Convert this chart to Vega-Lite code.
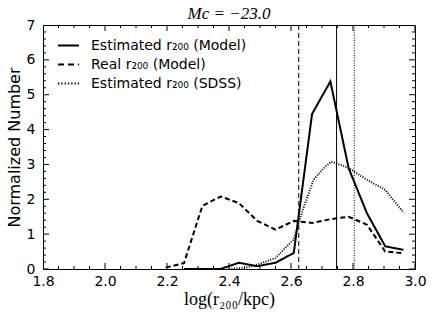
{
  "$schema": "https://vega.github.io/schema/vega-lite/v6.json",
  "width": 372,
  "height": 244,
  "autosize": "none",
  "padding": {"left": 43, "top": 25, "right": 21, "bottom": 58},
  "background": "white",
  "config": {
    "view": {"stroke": "black", "strokeWidth": 1},
    "axis": {"domain": false, "grid": false, "ticks": false, "labelFlush": false, "labelColor": "black", "labelFont": "DejaVu Sans", "labelFontSize": 14, "titleColor": "black"},
    "legend": {"orient": "none", "legendX": 14, "legendY": 9}
  },
  "title": {"text": "Mc = −23.0", "frame": "group", "font": "Liberation Serif", "fontStyle": "italic", "fontWeight": "normal", "fontSize": 17, "offset": 5, "dy": 10, "color": "black"},
  "datasets": {
    "lines": [
      {"x": 2.255, "y": 0.0, "series": "Estimated r₂₀₀ (Model)"},
      {"x": 2.314, "y": 0.0, "series": "Estimated r₂₀₀ (Model)"},
      {"x": 2.373, "y": 0.0, "series": "Estimated r₂₀₀ (Model)"},
      {"x": 2.432, "y": 0.18, "series": "Estimated r₂₀₀ (Model)"},
      {"x": 2.491, "y": 0.08, "series": "Estimated r₂₀₀ (Model)"},
      {"x": 2.55, "y": 0.18, "series": "Estimated r₂₀₀ (Model)"},
      {"x": 2.609, "y": 0.46, "series": "Estimated r₂₀₀ (Model)"},
      {"x": 2.668, "y": 4.45, "series": "Estimated r₂₀₀ (Model)"},
      {"x": 2.727, "y": 5.38, "series": "Estimated r₂₀₀ (Model)"},
      {"x": 2.786, "y": 2.89, "series": "Estimated r₂₀₀ (Model)"},
      {"x": 2.845, "y": 1.6, "series": "Estimated r₂₀₀ (Model)"},
      {"x": 2.904, "y": 0.65, "series": "Estimated r₂₀₀ (Model)"},
      {"x": 2.963, "y": 0.55, "series": "Estimated r₂₀₀ (Model)"},
      {"x": 2.196, "y": 0.04, "series": "Real r₂₀₀ (Model)"},
      {"x": 2.255, "y": 0.17, "series": "Real r₂₀₀ (Model)"},
      {"x": 2.314, "y": 1.81, "series": "Real r₂₀₀ (Model)"},
      {"x": 2.373, "y": 2.08, "series": "Real r₂₀₀ (Model)"},
      {"x": 2.432, "y": 1.89, "series": "Real r₂₀₀ (Model)"},
      {"x": 2.491, "y": 1.38, "series": "Real r₂₀₀ (Model)"},
      {"x": 2.55, "y": 1.13, "series": "Real r₂₀₀ (Model)"},
      {"x": 2.609, "y": 1.38, "series": "Real r₂₀₀ (Model)"},
      {"x": 2.668, "y": 1.32, "series": "Real r₂₀₀ (Model)"},
      {"x": 2.727, "y": 1.43, "series": "Real r₂₀₀ (Model)"},
      {"x": 2.786, "y": 1.5, "series": "Real r₂₀₀ (Model)"},
      {"x": 2.845, "y": 1.27, "series": "Real r₂₀₀ (Model)"},
      {"x": 2.904, "y": 0.5, "series": "Real r₂₀₀ (Model)"},
      {"x": 2.963, "y": 0.45, "series": "Real r₂₀₀ (Model)"},
      {"x": 2.4, "y": 0.0, "series": "Estimated r₂₀₀ (SDSS)"},
      {"x": 2.45, "y": 0.03, "series": "Estimated r₂₀₀ (SDSS)"},
      {"x": 2.49, "y": 0.12, "series": "Estimated r₂₀₀ (SDSS)"},
      {"x": 2.549, "y": 0.31, "series": "Estimated r₂₀₀ (SDSS)"},
      {"x": 2.608, "y": 0.84, "series": "Estimated r₂₀₀ (SDSS)"},
      {"x": 2.64, "y": 1.75, "series": "Estimated r₂₀₀ (SDSS)"},
      {"x": 2.673, "y": 2.56, "series": "Estimated r₂₀₀ (SDSS)"},
      {"x": 2.705, "y": 2.89, "series": "Estimated r₂₀₀ (SDSS)"},
      {"x": 2.73, "y": 3.08, "series": "Estimated r₂₀₀ (SDSS)"},
      {"x": 2.786, "y": 2.9, "series": "Estimated r₂₀₀ (SDSS)"},
      {"x": 2.845, "y": 2.56, "series": "Estimated r₂₀₀ (SDSS)"},
      {"x": 2.904, "y": 2.27, "series": "Estimated r₂₀₀ (SDSS)"},
      {"x": 2.963, "y": 1.62, "series": "Estimated r₂₀₀ (SDSS)"}
    ],
    "medians": [
      {"x": 2.625, "style": "dashed"},
      {"x": 2.747, "style": "solid"},
      {"x": 2.804, "style": "dotted"}
    ],
    "xticks": [
      {"v": 1.8, "kind": "major"}, {"v": 1.85, "kind": "minor"}, {"v": 1.9, "kind": "minor"}, {"v": 1.95, "kind": "minor"},
      {"v": 2.0, "kind": "major"}, {"v": 2.05, "kind": "minor"}, {"v": 2.1, "kind": "minor"}, {"v": 2.15, "kind": "minor"},
      {"v": 2.2, "kind": "major"}, {"v": 2.25, "kind": "minor"}, {"v": 2.3, "kind": "minor"}, {"v": 2.35, "kind": "minor"},
      {"v": 2.4, "kind": "major"}, {"v": 2.45, "kind": "minor"}, {"v": 2.5, "kind": "minor"}, {"v": 2.55, "kind": "minor"},
      {"v": 2.6, "kind": "major"}, {"v": 2.65, "kind": "minor"}, {"v": 2.7, "kind": "minor"}, {"v": 2.75, "kind": "minor"},
      {"v": 2.8, "kind": "major"}, {"v": 2.85, "kind": "minor"}, {"v": 2.9, "kind": "minor"}, {"v": 2.95, "kind": "minor"},
      {"v": 3.0, "kind": "major"}
    ],
    "yticks": [
      {"v": 0, "kind": "major"}, {"v": 0.2, "kind": "minor"}, {"v": 0.4, "kind": "minor"}, {"v": 0.6, "kind": "minor"}, {"v": 0.8, "kind": "minor"},
      {"v": 1, "kind": "major"}, {"v": 1.2, "kind": "minor"}, {"v": 1.4, "kind": "minor"}, {"v": 1.6, "kind": "minor"}, {"v": 1.8, "kind": "minor"},
      {"v": 2, "kind": "major"}, {"v": 2.2, "kind": "minor"}, {"v": 2.4, "kind": "minor"}, {"v": 2.6, "kind": "minor"}, {"v": 2.8, "kind": "minor"},
      {"v": 3, "kind": "major"}, {"v": 3.2, "kind": "minor"}, {"v": 3.4, "kind": "minor"}, {"v": 3.6, "kind": "minor"}, {"v": 3.8, "kind": "minor"},
      {"v": 4, "kind": "major"}, {"v": 4.2, "kind": "minor"}, {"v": 4.4, "kind": "minor"}, {"v": 4.6, "kind": "minor"}, {"v": 4.8, "kind": "minor"},
      {"v": 5, "kind": "major"}, {"v": 5.2, "kind": "minor"}, {"v": 5.4, "kind": "minor"}, {"v": 5.6, "kind": "minor"}, {"v": 5.8, "kind": "minor"},
      {"v": 6, "kind": "major"}, {"v": 6.2, "kind": "minor"}, {"v": 6.4, "kind": "minor"}, {"v": 6.6, "kind": "minor"}, {"v": 6.8, "kind": "minor"},
      {"v": 7, "kind": "major"}
    ]
  },
  "layer": [
    {
      "data": {"name": "medians"},
      "mark": {"type": "rule", "color": "black", "strokeWidth": 1},
      "encoding": {
        "x": {"field": "x", "type": "quantitative", "scale": {"domain": [1.8, 3.0], "nice": false, "zero": false}, "axis": null},
        "strokeDash": {"field": "style", "type": "nominal", "scale": {"domain": ["solid", "dashed", "dotted"], "range": [[1, 0], [5, 3], [1, 1.5]]}, "legend": null}
      }
    },
    {
      "data": {"name": "lines"},
      "mark": {"type": "line", "color": "black"},
      "encoding": {
        "x": {"field": "x", "type": "quantitative", "scale": {"domain": [1.8, 3.0], "nice": false, "zero": false},
          "axis": {"orient": "bottom", "values": [1.8, 2.0, 2.2, 2.4, 2.6, 2.8, 3.0], "format": ".1f", "tickSize": 0, "labelPadding": 5, "title": "log(r₂₀₀/kpc)", "titleFont": "Liberation Serif", "titleFontSize": 18, "titleFontWeight": "normal", "titlePadding": 2}},
        "y": {"field": "y", "type": "quantitative", "scale": {"domain": [0, 7], "nice": false},
          "axis": {"orient": "left", "values": [0, 1, 2, 3, 4, 5, 6, 7], "tickSize": 0, "labelPadding": 8, "title": "Normalized Number", "titleFont": "DejaVu Sans", "titleFontSize": 16, "titleFontWeight": "normal", "titlePadding": 4}},
        "strokeDash": {"field": "series", "type": "nominal", "sort": null,
          "scale": {"domain": ["Estimated r₂₀₀ (Model)", "Real r₂₀₀ (Model)", "Estimated r₂₀₀ (SDSS)"], "range": [[1, 0], [7, 4], [1.3, 2]]},
          "legend": {"title": null, "orient": "none", "legendX": 14, "legendY": 9, "padding": 0, "symbolType": "stroke", "symbolSize": 441, "symbolStrokeColor": "black", "labelFont": "DejaVu Sans", "labelFontSize": 14, "labelColor": "black", "labelOffset": 11, "rowPadding": -5,
            "encode": {"symbols": {"update": {"strokeDash": {"signal": "datum.value === 'Real r₂₀₀ (Model)' ? [6, 4] : (datum.value === 'Estimated r₂₀₀ (SDSS)' ? [1.3, 2] : [1, 0])"}, "strokeWidth": {"signal": "datum.value === 'Estimated r₂₀₀ (SDSS)' ? 1.2 : 2"}}}}}},
        "strokeWidth": {"field": "series", "type": "nominal", "sort": null,
          "scale": {"domain": ["Estimated r₂₀₀ (Model)", "Real r₂₀₀ (Model)", "Estimated r₂₀₀ (SDSS)"], "range": [2, 2, 1.2]},
          "legend": {"title": null, "orient": "none", "legendX": 14, "legendY": 9, "padding": 0, "symbolType": "stroke", "symbolSize": 441, "symbolStrokeColor": "black", "labelFont": "DejaVu Sans", "labelFontSize": 14, "labelColor": "black", "labelOffset": 11, "rowPadding": -5,
            "encode": {"symbols": {"update": {"strokeDash": {"signal": "datum.value === 'Real r₂₀₀ (Model)' ? [6, 4] : (datum.value === 'Estimated r₂₀₀ (SDSS)' ? [1.3, 2] : [1, 0])"}, "strokeWidth": {"signal": "datum.value === 'Estimated r₂₀₀ (SDSS)' ? 1.2 : 2"}}}}}}
      }
    },
    {
      "data": {"name": "xticks"},
      "mark": {"type": "tick", "orient": "vertical", "color": "black", "thickness": 1, "opacity": 1, "clip": true},
      "encoding": {
        "x": {"field": "v", "type": "quantitative", "scale": {"domain": [1.8, 3.0], "nice": false, "zero": false}, "axis": null},
        "y": {"datum": 0, "type": "quantitative", "scale": {"domain": [0, 7], "nice": false}, "axis": null},
        "size": {"field": "kind", "type": "nominal", "scale": {"domain": ["major", "minor"], "range": [12, 6]}, "legend": null}
      }
    },
    {
      "data": {"name": "xticks"},
      "mark": {"type": "tick", "orient": "vertical", "color": "black", "thickness": 1, "opacity": 1, "clip": true},
      "encoding": {
        "x": {"field": "v", "type": "quantitative", "scale": {"domain": [1.8, 3.0], "nice": false, "zero": false}, "axis": null},
        "y": {"datum": 7, "type": "quantitative", "scale": {"domain": [0, 7], "nice": false}, "axis": null},
        "size": {"field": "kind", "type": "nominal", "scale": {"domain": ["major", "minor"], "range": [12, 6]}, "legend": null}
      }
    },
    {
      "data": {"name": "yticks"},
      "mark": {"type": "tick", "orient": "horizontal", "color": "black", "thickness": 1, "opacity": 1, "clip": true},
      "encoding": {
        "y": {"field": "v", "type": "quantitative", "scale": {"domain": [0, 7], "nice": false}, "axis": null},
        "x": {"datum": 1.8, "type": "quantitative", "scale": {"domain": [1.8, 3.0], "nice": false, "zero": false}, "axis": null},
        "size": {"field": "kind", "type": "nominal", "scale": {"domain": ["major", "minor"], "range": [12, 6]}, "legend": null}
      }
    },
    {
      "data": {"name": "yticks"},
      "mark": {"type": "tick", "orient": "horizontal", "color": "black", "thickness": 1, "opacity": 1, "clip": true},
      "encoding": {
        "y": {"field": "v", "type": "quantitative", "scale": {"domain": [0, 7], "nice": false}, "axis": null},
        "x": {"datum": 3.0, "type": "quantitative", "scale": {"domain": [1.8, 3.0], "nice": false, "zero": false}, "axis": null},
        "size": {"field": "kind", "type": "nominal", "scale": {"domain": ["major", "minor"], "range": [12, 6]}, "legend": null}
      }
    }
  ],
  "resolve": {"axis": {"x": "independent", "y": "independent"}}
}
